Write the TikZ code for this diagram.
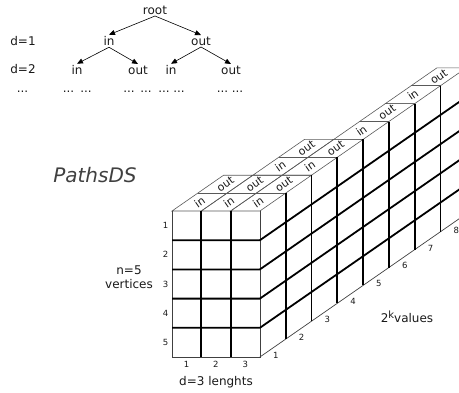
\documentclass[tikz,border=0pt]{standalone}
\usepackage{fontspec}
\setmainfont{DejaVu Sans}
\usetikzlibrary{arrows.meta, positioning}

\begin{document}
\begin{tikzpicture}[
    x=1pt, y=-1pt,
    font=\fontsize{12}{14}\selectfont,
    text=black!90,
    tree/.style={inner sep=1.5pt},
    arrow/.style={-{Triangle[length=6pt,width=5pt]}, semithick},
    idx/.style={font=\fontsize{8.5}{10}\selectfont, inner sep=1pt},
    flag/.style={rotate=34.75, inner sep=0pt, font=\fontsize{11}{13}\selectfont},
    cell/.style={draw=black!65, line width=0.6pt},
    rim/.style={draw=black!75, line width=0.7pt},
    bold/.style={draw=black, line width=1.8pt}
]
\useasboundingbox (0,0) rectangle (459,392);
\clip (0,0) rectangle (459,392);

% --- TREE ---
\node (root) [tree] at (155,10) {root};
\node (in1) [tree] at (109,41) {in};
\node (out1) [tree] at (201,41) {out};
\node (in2) [tree] at (77,70) {in};
\node (out2) [tree] at (138,70) {out};
\node (in3) [tree] at (171,70) {in};
\node (out3) [tree] at (231,70) {out};
\node (done) [tree] at (23,41) {d=1};
\node (dtwo) [tree, below=15pt of done] {d=2};
\foreach \x [count=\i] in {22.5, 68.5, 86, 129, 146, 164, 179, 222.5, 237.5}
    \node (dots\i) [tree] at (\x,92) {...};

\draw [arrow] (root.south) -- (in1.north);
\draw [arrow] (root.south) -- (out1.north);
\draw [arrow] (in1.south) -- (in2.north);
\draw [arrow] (in1.south) -- (out2.north);
\draw [arrow] (out1.south) -- (in3.north);
\draw [arrow] (out1.south) -- (out3.north);

% --- LABELS ---
\node (title) [font=\fontsize{20}{24}\selectfont\itshape, text=black!75] at (95,175) {PathsDS};
\node (nverts) [align=center] at (129,277) {n=5\\vertices};
\node (dlen) at (216,382) {d=3 lenghts};
\node (kvals) at (407,317) {2\raisebox{4.5pt}{\fontsize{10}{12}\selectfont k}values};

% --- ARRAY ---
\begin{scope}[shift={(172,211)}, x={(29.3pt,0pt)}, y={(0pt,-29.2pt)}, z={(25.8pt,17.9pt)}]
    % top cells
    \foreach \c/\z in {0/0,1/0,2/0,1/2,2/2,2/4,2/6} {
        \draw [cell] (\c,0,\z) -- ++(1,0,0) -- ++(0,0,2) -- ++(-1,0,0) -- cycle;
        \draw [cell] (\c,0,\z+1) -- ++(1,0,0);
        \node (in-\c-\z) [flag] at (\c+.5,0,\z+.5) {in};
        \node (out-\c-\z) [flag] at (\c+.5,0,\z+1.5) {out};
    }
    % front and side face
    \draw [rim] (3,0,0) -- (3,5,0) -- (0,5,0) -- (0,0,0);
    \draw [rim] (3,5,0) -- (3,5,8);
    \foreach \c in {1,2}
        \draw [bold] (\c,0,0) -- (\c,5,0);
    \foreach \r in {1,...,4}
        \draw [bold] (0,\r,0) -- (3,\r,0) -- (3,\r,8);
    \foreach \z in {1,...,8}
        \draw [bold] (3,0,\z) -- (3,5,\z);
    % indices
    \foreach \r in {1,...,5}
        \node (row\r) [idx] at (-.22,\r-.5,0) {\r};
    \foreach \c in {1,2,3}
        \node (col\c) [idx] at (\c-.5,5.25,0) {\c};
    \foreach \k in {1,...,8}
        \node (depth\k) [idx] at (3.1,5.25,\k-.5) {\k};
\end{scope}

\end{tikzpicture}
\end{document}
